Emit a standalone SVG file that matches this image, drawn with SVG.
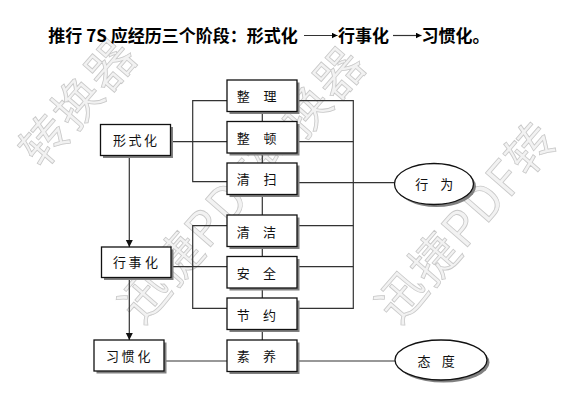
<svg xmlns="http://www.w3.org/2000/svg" width="571" height="406" viewBox="0 0 571 406">
<defs>
<style>
.bg{fill:#fff}
.sh{fill:#808080}
.box{fill:#fff;stroke:#111;stroke-width:1.3}
.ln{fill:none;stroke:#333;stroke-width:1.2}
.lbl{font-family:"Noto Sans CJK SC","Noto Sans",sans-serif;font-size:13px;fill:#111}
.title{font-family:"Noto Sans CJK SC","Liberation Sans",sans-serif;font-size:17px;font-weight:700;fill:#000}
.wm{font-family:"Noto Sans CJK SC","Noto Sans",sans-serif;font-size:48px;letter-spacing:2px;fill:#f2f2f2;stroke:#c8c8c8;stroke-width:0.8}
</style>
<marker id="ah" viewBox="0 0 8 8" refX="8" refY="4" markerWidth="7" markerHeight="8" markerUnits="userSpaceOnUse" orient="auto"><path d="M0,0 L8,4 L0,8 z" fill="#111"/></marker>
<marker id="ahs" viewBox="0 0 8 8" refX="8" refY="4" markerWidth="6" markerHeight="6" markerUnits="userSpaceOnUse" orient="auto"><path d="M0,0 L8,4 L0,8 z" fill="#000"/></marker>
</defs>
<rect class="bg" x="0" y="0" width="571" height="406"/>

<g id="watermark">
<text class="wm" transform="translate(42 170) rotate(-49)">转换器</text>
<text class="wm" transform="translate(142 326) rotate(-49)">迅捷PDF转换器</text>
<text class="wm" transform="translate(399 326) rotate(-49)">迅捷PDF转</text>
</g>

<g id="title">
<text class="title" y="42"><tspan x="48.3">推行 7S 应经历三个阶段：形式化</tspan><tspan x="338">行事化</tspan><tspan x="421.5">习惯化。</tspan></text>
<path class="ln" d="M304 35.5 H337.5" stroke="#000" marker-end="url(#ahs)"/>
<path class="ln" d="M393 35.5 H421.5" stroke="#000" marker-end="url(#ahs)"/>
</g>

<g id="connectors">
<path class="ln" d="M262.3 111 V340"/>
<path class="ln" d="M227 100.7 H192.7 V181.7 H227"/>
<path class="ln" d="M171 141.7 H227"/>
<path class="ln" d="M227 225.7 H192.7 V308.3 H227"/>
<path class="ln" d="M171 266.7 H227"/>
<path class="ln" d="M164 361 H227"/>
<path class="ln" d="M297 100.7 H353.3 V308.3 H297"/>
<path class="ln" d="M297 141.7 H353.3 M297 225.7 H353.3 M297 266.7 H353.3"/>
<path class="ln" d="M297 182.7 H394.5"/>
<path class="ln" d="M297 361 H395"/>
<path class="ln" d="M129.3 156 V247" marker-end="url(#ah)"/>
<path class="ln" d="M129.3 278 V340" marker-end="url(#ah)"/>
</g>

<g id="n-xingshihua">
<rect class="sh" x="103" y="127" width="70" height="31"/>
<rect class="box" x="100.5" y="124.5" width="70" height="31"/>
<text class="lbl" x="113 128.5 144" y="144.5">形式化</text>
</g>
<g id="n-xingshihua2">
<rect class="sh" x="104" y="249.5" width="69.5" height="30.5"/>
<rect class="box" x="101.5" y="247" width="69.5" height="30.5"/>
<text class="lbl" x="113 128.5 145" y="267">行事化</text>
</g>
<g id="n-xiguanhua">
<rect class="sh" x="96.5" y="342.5" width="70" height="31"/>
<rect class="box" x="94" y="340" width="70" height="31"/>
<text class="lbl" x="106 121.5 137.5" y="360.5">习惯化</text>
</g>

<g id="n-zhengli">
<rect class="sh" x="229.5" y="82.5" width="70" height="31.5"/>
<rect class="box" x="227" y="80" width="70" height="31.5"/>
<text class="lbl" x="236.8 250 263.5" y="101">整 理</text>
</g>
<g id="n-zhengdun">
<rect class="sh" x="229.5" y="124" width="70" height="31.5"/>
<rect class="box" x="227" y="121.5" width="70" height="31.5"/>
<text class="lbl" x="236.8 250 263.5" y="142.8">整 顿</text>
</g>
<g id="n-qingsao">
<rect class="sh" x="229.5" y="165.5" width="70" height="31.5"/>
<rect class="box" x="227" y="163" width="70" height="31.5"/>
<text class="lbl" x="236.8 250 263.5" y="184">清 扫</text>
</g>
<g id="n-qingjie">
<rect class="sh" x="229.5" y="217.5" width="70" height="31.5"/>
<rect class="box" x="227" y="215" width="70" height="31.5"/>
<text class="lbl" x="236.8 250 263" y="237">清 洁</text>
</g>
<g id="n-anquan">
<rect class="sh" x="229.5" y="259" width="70" height="31.5"/>
<rect class="box" x="227" y="256.5" width="70" height="31.5"/>
<text class="lbl" x="236.8 250 263" y="278">安 全</text>
</g>
<g id="n-jieyue">
<rect class="sh" x="229.5" y="300.5" width="70" height="31.5"/>
<rect class="box" x="227" y="298" width="70" height="31.5"/>
<text class="lbl" x="236.8 250 263" y="319.5">节 约</text>
</g>
<g id="n-suyang">
<rect class="sh" x="229.5" y="342.5" width="70" height="31.5"/>
<rect class="box" x="227" y="340" width="70" height="31.5"/>
<text class="lbl" x="236.8 250 263" y="361.3">素 养</text>
</g>

<g id="n-xingwei">
<ellipse class="sh" cx="436.5" cy="186.5" rx="39.5" ry="20.5"/>
<ellipse class="box" cx="434" cy="184" rx="39.5" ry="20.5"/>
<text class="lbl" x="415.2 428 440.2" y="188.8">行 为</text>
</g>
<g id="n-taidu">
<ellipse class="sh" cx="443.5" cy="362.5" rx="46" ry="20"/>
<ellipse class="box" cx="441" cy="360" rx="46" ry="20"/>
<text class="lbl" x="417.5 430 441.8" y="366">态 度</text>
</g>
</svg>
